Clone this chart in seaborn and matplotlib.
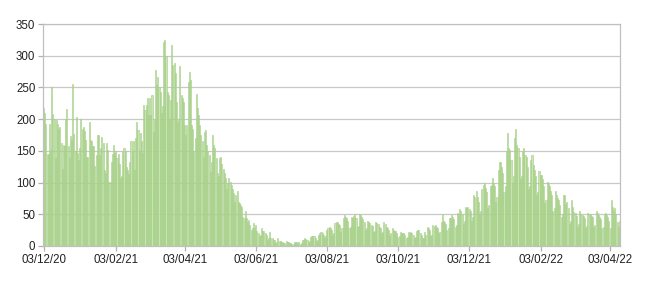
import matplotlib
matplotlib.use("Agg")
import matplotlib.pyplot as plt
import pandas as pd
import seaborn as sns

start_date = "2020-12-03"
dec20 = [218, 210, 192, 145, 145, 192, 151, 250, 208, 200, 138, 198, 193, 185,
         188, 162, 122, 160, 157, 201, 216, 157, 138, 173, 167, 256, 177, 149, 203]
jan21 = [146, 136, 154, 200, 184, 188, 182, 167, 141, 141, 195, 167, 165, 157, 157,
         126, 143, 175, 175, 143, 154, 172, 163, 120, 115, 162, 151, 101, 101, 133, 145]
feb21 = [159, 146, 149, 138, 145, 130, 107, 110, 150, 154, 150, 125, 120, 113,
         133, 165, 150, 165, 120, 170, 196, 183, 150, 178, 165, 146, 222, 215]
mar21 = [222, 233, 206, 233, 206, 238, 180, 200, 277, 254, 267, 251, 243, 210, 220, 322,
         325, 300, 243, 238, 200, 230, 317, 285, 288, 272, 227, 195, 200, 283, 238]
apr21 = [233, 227, 190, 175, 190, 259, 275, 262, 190, 185, 150, 170, 240, 217, 206,
         190, 175, 165, 140, 180, 183, 159, 150, 143, 117, 133, 175, 160, 154, 138]
may21 = [115, 110, 138, 141, 130, 122, 115, 107, 90, 99, 107, 101, 96, 90, 83, 70,
         80, 86, 70, 68, 65, 62, 46, 44, 55, 44, 38, 41, 33, 26, 28]
jun21 = [36, 28, 33, 23, 20, 15, 18, 28, 23, 23, 20, 17, 10, 12, 22,
         13, 13, 10, 9, 5, 6, 12, 8, 8, 7, 7, 4, 4, 8, 7]
jul21 = [6, 5, 5, 3, 3, 7, 6, 6, 5, 6, 3, 4, 9, 10, 12, 11,
         10, 6, 8, 14, 15, 15, 16, 12, 8, 10, 18, 20, 22, 20, 18]
aug21 = [12, 15, 26, 28, 30, 28, 26, 18, 20, 36, 38, 38, 35, 33, 22, 28,
         44, 49, 46, 44, 40, 28, 30, 46, 44, 48, 50, 44, 30, 32, 51]
sep21 = [49, 45, 42, 38, 26, 28, 40, 38, 36, 33, 32, 22, 24, 38, 36,
         34, 30, 28, 20, 22, 38, 35, 30, 28, 26, 18, 20, 28, 26, 24]
oct21 = [23, 20, 14, 16, 22, 20, 21, 20, 18, 12, 14, 22, 21, 22, 20, 18,
         12, 14, 23, 25, 25, 20, 17, 12, 13, 22, 18, 30, 28, 25, 16]
nov21 = [18, 33, 32, 33, 30, 28, 20, 22, 38, 51, 40, 38, 35, 25, 28,
         44, 44, 49, 45, 42, 30, 33, 52, 49, 59, 55, 50, 35, 40, 62]
dec21 = [60, 62, 58, 55, 40, 45, 80, 78, 86, 78, 70, 50, 55, 90, 96, 99,
         91, 85, 60, 65, 95, 96, 107, 100, 95, 70, 78, 120, 133, 133, 125]
jan22 = [115, 85, 95, 150, 178, 154, 151, 135, 100, 110, 170, 185, 160, 154, 140, 105,
         110, 150, 154, 143, 140, 125, 90, 95, 135, 143, 128, 120, 110, 80, 85]
feb22 = [118, 112, 112, 105, 95, 68, 72, 101, 98, 95, 86, 80, 55, 60,
         86, 80, 75, 72, 65, 45, 50, 80, 80, 67, 70, 60, 35, 40]
mar22 = [72, 62, 54, 52, 48, 30, 35, 55, 50, 49, 47, 44, 28, 32, 52, 50,
         51, 48, 45, 30, 33, 55, 52, 49, 46, 42, 28, 30, 50, 52, 49]
apr22 = [45, 40, 28, 72, 62, 55, 60, 50, 38, 30, 40]

tick_dates = ["2020-12-03", "2021-02-03", "2021-04-03", "2021-06-03", "2021-08-03",
              "2021-10-03", "2021-12-03", "2022-02-03", "2022-04-03"]
y_ticks = [0, 50, 100, 150, 200, 250, 300, 350]

values = (dec20 + jan21 + feb21 + mar21 + apr21 + may21 + jun21 + jul21 + aug21
          + sep21 + oct21 + nov21 + dec21 + jan22 + feb22 + mar22 + apr22)

sns.set_theme(style="white")
plt.rcParams["font.family"] = ["Liberation Sans", "DejaVu Sans"]

dates = pd.date_range(start_date, periods=len(values), freq="D")
df = pd.DataFrame({"date": dates.strftime("%Y-%m-%d"), "value": values})

fig = plt.figure(figsize=(6.5, 2.85), dpi=100)
ax = fig.add_axes([43 / 650, 1 - 246 / 285, 577 / 650, 222 / 285])

sns.barplot(data=df, x="date", y="value", ax=ax, color="#c2e0ab",
            edgecolor="#9fcc7e", linewidth=0.45, width=0.9, saturation=1,
            errorbar=None, alpha=0.88)

date_list = list(df["date"])
positions = [date_list.index(t) for t in tick_dates]
labels = pd.to_datetime(tick_dates).strftime("%d/%m/%y")
ax.set_xticks(positions)
ax.set_xticklabels(labels)
ax.set_yticks(y_ticks)
ax.set_xlim(-0.5, len(values) - 0.5)
ax.set_ylim(0, 350)
ax.set_xlabel("")
ax.set_ylabel("")

ax.yaxis.grid(True, color="#c8c8c8", linewidth=0.9)
ax.xaxis.grid(False)
ax.set_axisbelow(True)

for side in ["left", "bottom", "right", "top"]:
    ax.spines[side].set_visible(True)
    ax.spines[side].set_color("#c0c0c0")
    ax.spines[side].set_linewidth(0.9)

ax.tick_params(axis="both", which="major", direction="out", length=3.5,
               width=0.9, color="#b0b0b0", labelsize=8.3, labelcolor="#222222",
               bottom=True, left=True, pad=2)

fig.savefig("out.png", dpi=100)
